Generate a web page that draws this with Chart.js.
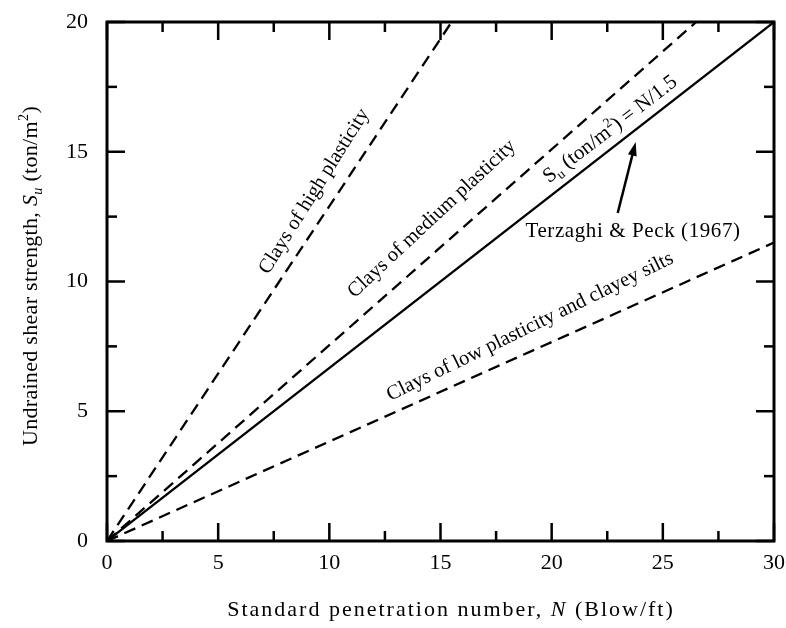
<!DOCTYPE html>
<html>
<head>
<meta charset="utf-8">
<script src="https://cdn.jsdelivr.net/npm/chart.js@4.4.1/dist/chart.umd.min.js"></script>
<style>
  body { margin: 0; background: #fff; }
</style>
</head>
<body>
<canvas id="myChart" width="786" height="628"></canvas>
<script>
// valeurs : extrémités de chaque droite (N, Su)
const seriesNames = ['Clays of high plasticity', 'Clays of medium plasticity', 'Terzaghi & Peck (1967)', 'Clays of low plasticity and clayey silts'];
const nValues = [[0, 15.5], [0, 26.5], [0, 30], [0, 30]];
const suValues = [[0, 20], [0, 20], [0, 20], [0, 11.5]];
const dashed = [true, true, false, true];
const xTicks = [0, 5, 10, 15, 20, 25, 30];
const yTicks = [0, 5, 10, 15, 20];

// textes posés sur le graphique (coordonnées en N, Su)
const notes = [
  { runs: [{ t: 'Clays of high plasticity' }], n: 9.27, su: 13.5, angle: 58, size: 20.5, sp: 0 },
  { runs: [{ t: 'Clays of medium plasticity' }], n: 14.57, su: 12.45, angle: 43, size: 20.5, sp: 0 },
  { runs: [{ t: 'S' }, { t: 'u', sub: true }, { t: ' (ton/m' }, { t: '2', sup: true }, { t: ') = N/1.5' }], n: 22.6, su: 15.9, angle: 37.5, size: 21, sp: 0 },
  { runs: [{ t: 'Terzaghi & Peck (1967)' }], n: 23.66, su: 11.98, angle: 0, size: 21, sp: 0.6 },
  { runs: [{ t: 'Clays of low plasticity and clayey silts' }], n: 19.0, su: 8.3, angle: 26, size: 20.5, sp: 0 }
];
const arrowFrom = [22.97, 12.64];
const arrowTo = [23.78, 15.38];

const FONT = '"Liberation Serif", "Times New Roman", serif';

function drawRich(ctx, runs, x, y, angle, size, spacing) {
  ctx.save();
  ctx.translate(x, y);
  ctx.rotate(-angle * Math.PI / 180);
  ctx.letterSpacing = spacing + 'px';
  let total = 0;
  const parts = runs.map(r => {
    const s = (r.sub || r.sup) ? size * 0.65 : size;
    const font = (r.italic ? 'italic ' : '') + s + 'px ' + FONT;
    ctx.font = font;
    const w = ctx.measureText(r.t).width;
    total += w;
    return { r, font, w };
  });
  let cx = -total / 2;
  ctx.textBaseline = 'alphabetic';
  ctx.textAlign = 'left';
  ctx.fillStyle = '#000';
  parts.forEach(p => {
    ctx.font = p.font;
    let dy = size * 0.33;
    if (p.r.sub) dy += size * 0.2;
    if (p.r.sup) dy -= size * 0.4;
    ctx.fillText(p.r.t, cx, dy);
    cx += p.w;
  });
  ctx.restore();
}

// cadre, graduations vers l'intérieur, titres et annotations
const decor = {
  id: 'decor',
  afterDraw(chart) {
    const ctx = chart.ctx;
    const xs = chart.scales.x, ys = chart.scales.y;
    const a = chart.chartArea;
    ctx.save();
    ctx.strokeStyle = '#000';
    ctx.lineWidth = 3;
    ctx.strokeRect(a.left, a.top, a.right - a.left, a.bottom - a.top);

    ctx.lineWidth = 2.5;
    const tick = (px, py, dx, dy) => {
      ctx.beginPath(); ctx.moveTo(px, py); ctx.lineTo(px + dx, py + dy); ctx.stroke();
    };
    xTicks.forEach((v, i) => {
      const p = xs.getPixelForValue(v);
      tick(p, a.bottom, 0, -18); tick(p, a.top, 0, 18);
      if (i > 0) {
        const m = xs.getPixelForValue((v + xTicks[i - 1]) / 2);
        tick(m, a.bottom, 0, -10); tick(m, a.top, 0, 10);
      }
    });
    yTicks.forEach((v, i) => {
      const p = ys.getPixelForValue(v);
      tick(a.left, p, 18, 0); tick(a.right, p, -18, 0);
      if (i > 0) {
        const m = ys.getPixelForValue((v + yTicks[i - 1]) / 2);
        tick(a.left, m, 10, 0); tick(a.right, m, -10, 0);
      }
    });

    // titres des axes
    drawRich(ctx, [{ t: 'Standard penetration number, ' }, { t: 'N', italic: true }, { t: ' (Blow/ft)' }],
      451, 609, 0, 22, 2);
    drawRich(ctx, [{ t: 'Undrained shear strength, ' }, { t: 'S', italic: true }, { t: 'u', italic: true, sub: true },
      { t: ' (ton/m' }, { t: '2', sup: true }, { t: ')' }], 30, 276, 90, 22, 0.3);

    notes.forEach(nt => {
      drawRich(ctx, nt.runs, xs.getPixelForValue(nt.n), ys.getPixelForValue(nt.su), nt.angle, nt.size, nt.sp);
    });

    // flèche vers la droite de Terzaghi & Peck
    const x0 = xs.getPixelForValue(arrowFrom[0]), y0 = ys.getPixelForValue(arrowFrom[1]);
    const x1 = xs.getPixelForValue(arrowTo[0]), y1 = ys.getPixelForValue(arrowTo[1]);
    const ang = Math.atan2(y1 - y0, x1 - x0);
    ctx.lineWidth = 2.5;
    ctx.beginPath();
    ctx.moveTo(x0, y0);
    ctx.lineTo(x1 - 10 * Math.cos(ang), y1 - 10 * Math.sin(ang));
    ctx.stroke();
    ctx.fillStyle = '#000';
    ctx.beginPath();
    ctx.moveTo(x1, y1);
    ctx.lineTo(x1 - 14 * Math.cos(ang) + 4.5 * Math.sin(ang), y1 - 14 * Math.sin(ang) - 4.5 * Math.cos(ang));
    ctx.lineTo(x1 - 14 * Math.cos(ang) - 4.5 * Math.sin(ang), y1 - 14 * Math.sin(ang) + 4.5 * Math.cos(ang));
    ctx.closePath();
    ctx.fill();
    ctx.restore();
  }
};

const datasets = seriesNames.map((name, i) => ({
  label: name,
  data: nValues[i].map((n, j) => ({ x: n, y: suValues[i][j] })),
  showLine: true,
  borderColor: '#000',
  borderWidth: dashed[i] ? 2.3 : 2.2,
  borderDash: dashed[i] ? [12, 7] : [],
  pointRadius: 0
}));

const ctx = document.getElementById('myChart').getContext('2d');
new Chart(ctx, {
  type: 'scatter',
  data: { datasets: datasets },
  options: {
    responsive: false,
    animation: false,
    devicePixelRatio: 1,
    layout: { padding: { top: 22, right: 12, left: 0, bottom: 0 } },
    plugins: { legend: { display: false }, tooltip: { enabled: false } },
    scales: {
      x: {
        type: 'linear', min: 0, max: 30,
        afterBuildTicks: s => { s.ticks = xTicks.map(v => ({ value: v })); },
        afterFit: s => { s.height = 87; s.paddingLeft = 0; s.paddingRight = 0; },
        grid: { display: false, drawTicks: false, tickLength: 0 },
        border: { display: false },
        ticks: { color: '#000', padding: 9, maxRotation: 0, font: { family: FONT, size: 22 } }
      },
      y: {
        type: 'linear', min: 0, max: 20,
        afterBuildTicks: s => { s.ticks = yTicks.map(v => ({ value: v })); },
        afterFit: s => { s.width = 107; s.paddingTop = 0; s.paddingBottom = 0; },
        grid: { display: false, drawTicks: false, tickLength: 0 },
        border: { display: false },
        ticks: { color: '#000', padding: 19, font: { family: FONT, size: 22 } }
      }
    }
  },
  plugins: [decor]
});
</script>
</body>
</html>
